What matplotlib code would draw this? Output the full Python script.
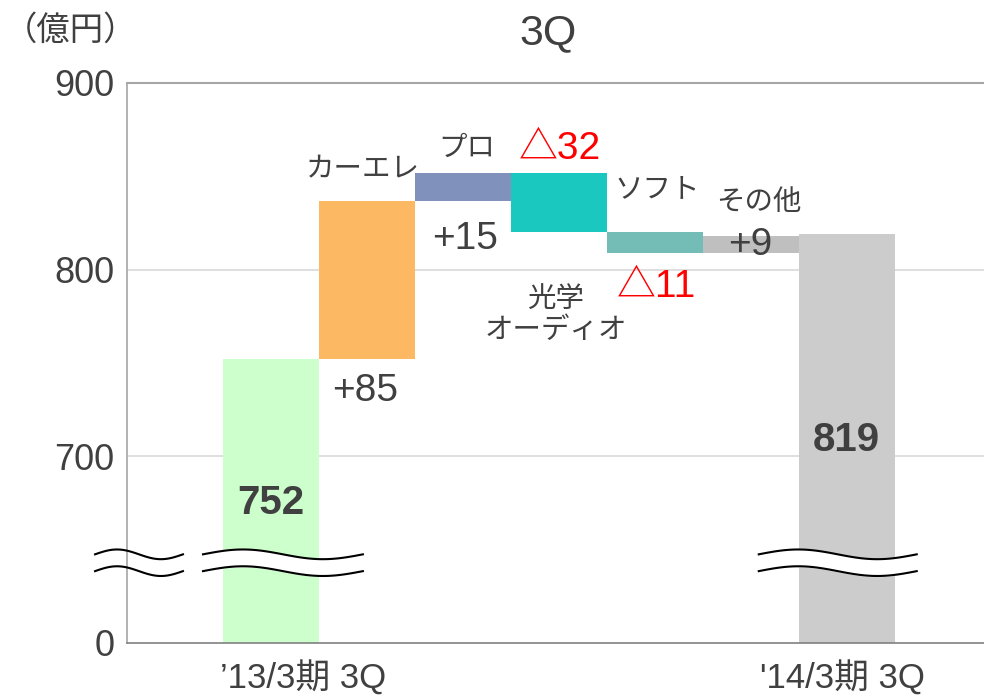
import numpy as np
import matplotlib
matplotlib.use('Agg')
import matplotlib.pyplot as plt

plt.rcParams['font.family'] = ['Liberation Sans', 'Noto Sans CJK JP', 'DejaVu Sans']

# data
categories = ["’13/3期 3Q", 'カーエレ', 'プロ', '光学\nオーディオ', 'ソフト', 'その他', "'14/3期 3Q"]
start_total = 752
deltas = [85, 15, -32, -11, 9]
end_total = 819
colors = ['#CCFFCC', '#FDB863', '#8092BC', '#1AC8C0', '#74BDB6', '#BFBFBF', '#CCCCCC']
yticks = [600, 700, 800, 900]
yticklabels = ['0', '700', '800', '900']

BASE = 600  # axis is broken: 600 is drawn as 0
TXT = '#404040'

# waterfall geometry
bottoms = [BASE]
heights = [start_total - BASE]
level = start_total
for d in deltas:
    bottoms.append(min(level, level + d))
    heights.append(abs(d))
    level += d
bottoms.append(BASE)
heights.append(end_total - BASE)
x = np.arange(len(categories))

fig = plt.figure(figsize=(9.84, 6.97), dpi=100)
ax = fig.add_axes([127/984, 1-643/697, 1-127/984, (643-83)/697])

ax.bar(x, heights, bottom=bottoms, width=1.0, color=colors, zorder=2)
ax.set_xlim(-1.5, 7.43)
ax.set_ylim(600, 900)

ax.set_yticks(yticks)
ax.set_yticklabels(yticklabels)
ax.tick_params(axis='y', length=0, pad=9, labelsize=26, labelcolor=TXT)
ax.set_xticks([])
# period labels under the first and last bars
ax.annotate(categories[0], (x[0], BASE), xytext=(23, -33), textcoords='offset points',
            ha='center', va='baseline', fontsize=25, color=TXT, annotation_clip=False)
ax.annotate(categories[-1], (x[-1], BASE), xytext=(-3, -33), textcoords='offset points',
            ha='center', va='baseline', fontsize=25, color=TXT, annotation_clip=False)

for v in [700, 800]:
    ax.axhline(v, color='#D9D9D9', lw=1.2, zorder=1)
ax.spines['top'].set_color('#A6A6A6')
ax.spines['top'].set_linewidth(1.5)
ax.spines['right'].set_visible(False)
ax.spines['left'].set_color('#A6A6A6')
ax.spines['left'].set_linewidth(1.2)
ax.spines['bottom'].set_color('#808080')
ax.spines['bottom'].set_linewidth(1.2)

# totals
ax.text(0, 675, str(start_total), ha='center', va='center', fontsize=29,
        fontweight='bold', color=TXT)
ax.text(6, 709, str(end_total), ha='center', va='center', fontsize=29,
        fontweight='bold', color=TXT)

# deltas
def fmt(d):
    return ('+%d' % d) if d > 0 else ('△%d' % -d)

tops = [b + h for b, h in zip(bottoms, heights)]
val_pos = {1: ('below', -32, -2), 2: ('below', -38, 2), 3: ('above', 24, 1),
           4: ('below', -34, 2), 5: ('mid', -1, -1)}
for i, d in enumerate(deltas, start=1):
    where, off, dx = val_pos[i]
    yref = {'below': bottoms[i], 'above': tops[i], 'mid': bottoms[i] + heights[i]/2}[where]
    ax.annotate(fmt(d), (x[i], yref), xytext=(dx * 0.72, off * 0.72), textcoords='offset points',
                ha='center', va='center', fontsize=28,
                color='red' if d < 0 else TXT, zorder=5)

# category labels
cat_pos = {1: (-4, 'top', 30), 2: (4, 'top', 24), 3: (-3, 'bottom', -83), 4: (2, 'top', 42), 5: (8, 'top', 33)}
for i in range(1, 6):
    dx, where, off = cat_pos[i]
    yref = tops[i] if where == 'top' else bottoms[i]
    ax.annotate(categories[i], (x[i], yref), xytext=(dx * 0.72, off * 0.72),
                textcoords='offset points', ha='center', va='center',
                fontsize=20.5, color=TXT, linespacing=1.25, zorder=5)

# axis break marks
def wave(x0, x1, ymid, n=100):
    xs = np.linspace(x0, x1, n)
    t = (xs - x0) / (x1 - x0)
    return xs, ymid + 2.6 * np.sin(2 * np.pi * t)

segments = [(-1.833, -0.917, False), (-0.708, 0.958, True), (5.083, 6.729, True)]
for x0, x1, fill in segments:
    xs, yu = wave(x0, x1, 647.5)
    yl = yu - 9
    if fill:
        ax.fill_between(xs, yl, yu, color='white', zorder=3, clip_on=False)
    ax.plot(xs, yu, color='black', lw=1.5, zorder=4, clip_on=False)
    ax.plot(xs, yl, color='black', lw=1.5, zorder=4, clip_on=False)

fig.text(548/984, 1-33/697, '3Q', ha='center', va='center', fontsize=31, color=TXT)
fig.text(4/984, 1-31/697, '（億円）', ha='left', va='center', fontsize=24, color=TXT)

fig.savefig('out.png', dpi=100)
